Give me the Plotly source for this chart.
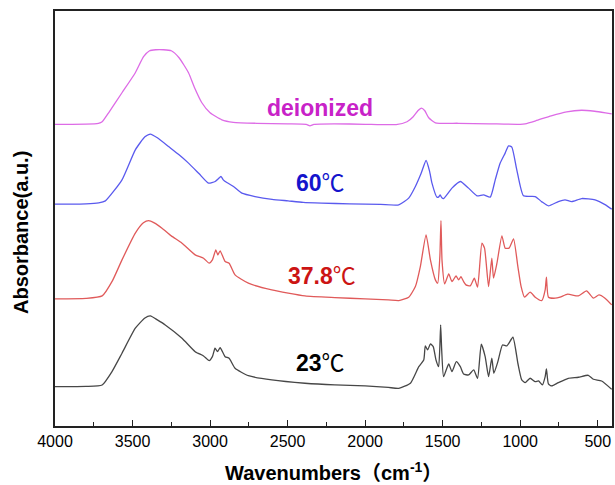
import plotly.graph_objects as go

# ---- data (wavenumber cm-1, absorbance a.u.) ----
deion_wn = [4000, 3800, 3720, 3696, 3650, 3568, 3482, 3429, 3390, 3350, 3300, 3250, 3200, 3139, 3100, 3053,
            3000, 2924, 2850, 2700, 2500, 2380, 2356, 2330, 2200, 2000, 1800, 1730, 1690, 1660, 1637, 1615,
            1590, 1547, 1400, 1200, 1000, 968, 900, 800, 700, 604, 520, 450, 410]
deion_ab = [301.5, 301.7, 302.5, 304, 314, 333, 353, 369, 375, 376, 376, 375, 368, 353, 338, 323,
            313, 306, 303.5, 302.5, 302, 301.5, 300, 301.5, 302, 301.5, 301.2, 304, 309, 315, 317.7, 315,
            308, 303, 302.5, 302, 301.5, 302, 305, 310, 314, 315.5, 314.5, 313, 312]

t60_wn = [4000, 3800, 3718, 3675, 3568, 3482, 3420, 3385, 3340, 3268, 3200, 3139, 3070, 3010, 2967, 2940,
          2929, 2915, 2892, 2849, 2795, 2710, 2600, 2497, 2400, 2281, 2100, 1900, 1783, 1719, 1676, 1640,
          1607, 1585, 1569, 1537, 1525, 1516, 1505, 1494, 1440, 1386, 1333, 1279, 1236, 1193, 1161, 1129,
          1097, 1075, 1054, 1022, 979, 904, 860, 818, 754, 711, 668, 604, 517, 450, 410]
t60_ab = [221.7, 222, 223, 225, 246, 276, 289, 291.7, 288, 279.3, 271, 262.7, 252, 242.7, 244.3, 248,
          249.3, 246, 243.3, 239.3, 232.7, 229.3, 226.5, 225, 223.5, 222.7, 222, 221.5, 221, 227.7, 239.3, 252,
          265.3, 255, 242.7, 228.7, 229, 231, 228, 227.3, 237.7, 244.3, 237.7, 230, 231, 228.7, 246, 262.7,
          272.7, 280, 278.7, 256, 230, 229.3, 224, 220, 224.3, 226, 224.3, 227.3, 226, 221, 216.7]

t378_wn = [4000, 3800, 3696, 3630, 3568, 3482, 3430, 3396, 3360, 3310, 3250, 3181, 3096, 3042, 3006, 2985,
           2963, 2950, 2935, 2903, 2877, 2839, 2753, 2602, 2388, 2195, 2000, 1850, 1783, 1719, 1676, 1644,
           1607, 1579, 1547, 1532, 1518, 1511, 1504, 1487, 1461, 1440, 1414, 1397, 1382, 1365, 1350, 1322,
           1296, 1275, 1247, 1230, 1204, 1183, 1172, 1150, 1118, 1097, 1072, 1043, 1015, 994, 972, 936,
           903, 861, 839, 831, 818, 775, 743, 694, 625, 572, 528, 492, 453, 410]
t378_ab = [127, 127.5, 130, 145, 166, 192.7, 203, 205.3, 203, 197.7, 190, 182.7, 171, 167.7, 162.7, 166,
           176, 171, 175, 164.3, 162.7, 151, 142.7, 136, 130, 128.3, 127, 126, 125.3, 128.7, 139.3, 159.3,
           191, 166, 146, 142.7, 170, 205.3, 165, 142, 152, 144.3, 150, 146, 149.3, 144.3, 141, 140,
           147.7, 138.7, 182.7, 177.7, 139.3, 167.7, 147.7, 162.7, 190, 177.7, 177.7, 187, 159.3, 139.3, 128.7, 133.7,
           128.7, 125.3, 136, 148.7, 128.7, 127.7, 128.7, 131.7, 130, 135, 127.7, 131, 127.7, 121]

t23_wn = [4000, 3800, 3696, 3630, 3568, 3482, 3420, 3385, 3340, 3289, 3181, 3096, 3042, 3006, 2985, 2968,
          2952, 2935, 2903, 2877, 2839, 2753, 2602, 2388, 2195, 2000, 1850, 1783, 1708, 1654, 1622, 1612,
          1597, 1579, 1561, 1543, 1526, 1518, 1513, 1506, 1494, 1461, 1440, 1412, 1386, 1365, 1333, 1300,
          1275, 1251, 1226, 1204, 1183, 1170, 1144, 1114, 1086, 1047, 1015, 990, 968, 936, 903, 882,
          857, 839, 831, 818, 797, 754, 690, 625, 561, 528, 475, 410]
t23_ab = [39.3, 39.5, 41, 55, 72.7, 97.7, 108, 110, 106, 101, 87.7, 74.3, 70, 65.3, 69.3, 77.7,
          74.3, 78.3, 69.3, 67.7, 57.7, 50.3, 46, 42.7, 41, 40, 38.5, 37.7, 42.7, 59.3, 66, 80,
          76, 82, 79.3, 66, 59.3, 80, 101, 75, 49.3, 62, 54.3, 64.3, 59.3, 52, 51, 56,
          47.7, 81.7, 69.3, 49.3, 67.7, 52.7, 64.3, 81, 80, 88.7, 62.7, 46, 43.3, 47.7, 44.3, 45,
          41, 49.3, 57, 42, 40, 43.3, 47.7, 48.7, 50.7, 46.7, 45, 36.7]

x_ticks = [4000, 3500, 3000, 2500, 2000, 1500, 1000, 500]
x_minor = [3750, 3250, 2750, 2250, 1750, 1250, 750]

series = [
    ("deionized", deion_wn, deion_ab, "#DD6BE6"),
    ("60℃", t60_wn, t60_ab, "#5A5AEE"),
    ("37.8℃", t378_wn, t378_ab, "#E05A5A"),
    ("23℃", t23_wn, t23_ab, "#474747"),
]

FONT = "Liberation Sans, Arial, Noto Sans CJK SC"

fig = go.Figure()
for name, wn, ab, col in series:
    fig.add_trace(go.Scatter(x=wn, y=ab, mode="lines", name=name,
                             line=dict(color=col, width=1.3, shape="spline", smoothing=0.5),
                             showlegend=False))

labels = [
    ("<b>deionized</b>", 2288, 318, "#C822C8"),
    ("<b>60</b>℃", 2290, 243, "#1414CC"),
    ("<b>37.8</b>℃", 2278, 150, "#CC1414"),
    ("<b>23</b>℃", 2286, 63, "#000000"),
]
for txt, x, y, col in labels:
    fig.add_annotation(x=x, y=y, xref="x", yref="y", text=txt, showarrow=False,
                       font=dict(family=FONT, size=23, color=col),
                       xanchor="center", yanchor="middle")

fig.add_annotation(x=0.5, y=0, xref="paper", yref="paper", yshift=-45,
                   text="<b>Wavenumbers（cm<sup>-1</sup>）</b>",
                   showarrow=False, xanchor="center", yanchor="middle",
                   font=dict(family=FONT, size=20, color="#000"))
fig.add_annotation(x=0, y=0.465, xref="paper", yref="paper", xshift=-34,
                   text="<b>Absorbance(a.u.)</b>", textangle=-90,
                   showarrow=False, xanchor="center", yanchor="middle",
                   font=dict(family=FONT, size=20, color="#000"))

fig.update_layout(
    width=615, height=485,
    margin=dict(l=55, r=1, t=11, b=59),
    paper_bgcolor="white", plot_bgcolor="white",
    font=dict(family=FONT, color="#000"),
)
fig.update_xaxes(range=[4000, 408], tickmode="array", tickvals=x_ticks,
                 ticktext=[str(v) for v in x_ticks],
                 ticks="inside", ticklen=6, tickwidth=1.3, tickcolor="#222",
                 minor=dict(tickmode="array", tickvals=x_minor,
                            ticks="inside", ticklen=4, tickwidth=1.2, tickcolor="#222"),
                 showline=True, linecolor="#222", linewidth=1.5, mirror=True,
                 showgrid=False, zeroline=False,
                 tickfont=dict(family=FONT, size=16, color="#000"))
fig.update_yaxes(range=[0, 414.7], showticklabels=False, ticks="",
                 showline=True, linecolor="#222", linewidth=1.5, mirror=True,
                 showgrid=False, zeroline=False)

fig.write_html("out.html")
